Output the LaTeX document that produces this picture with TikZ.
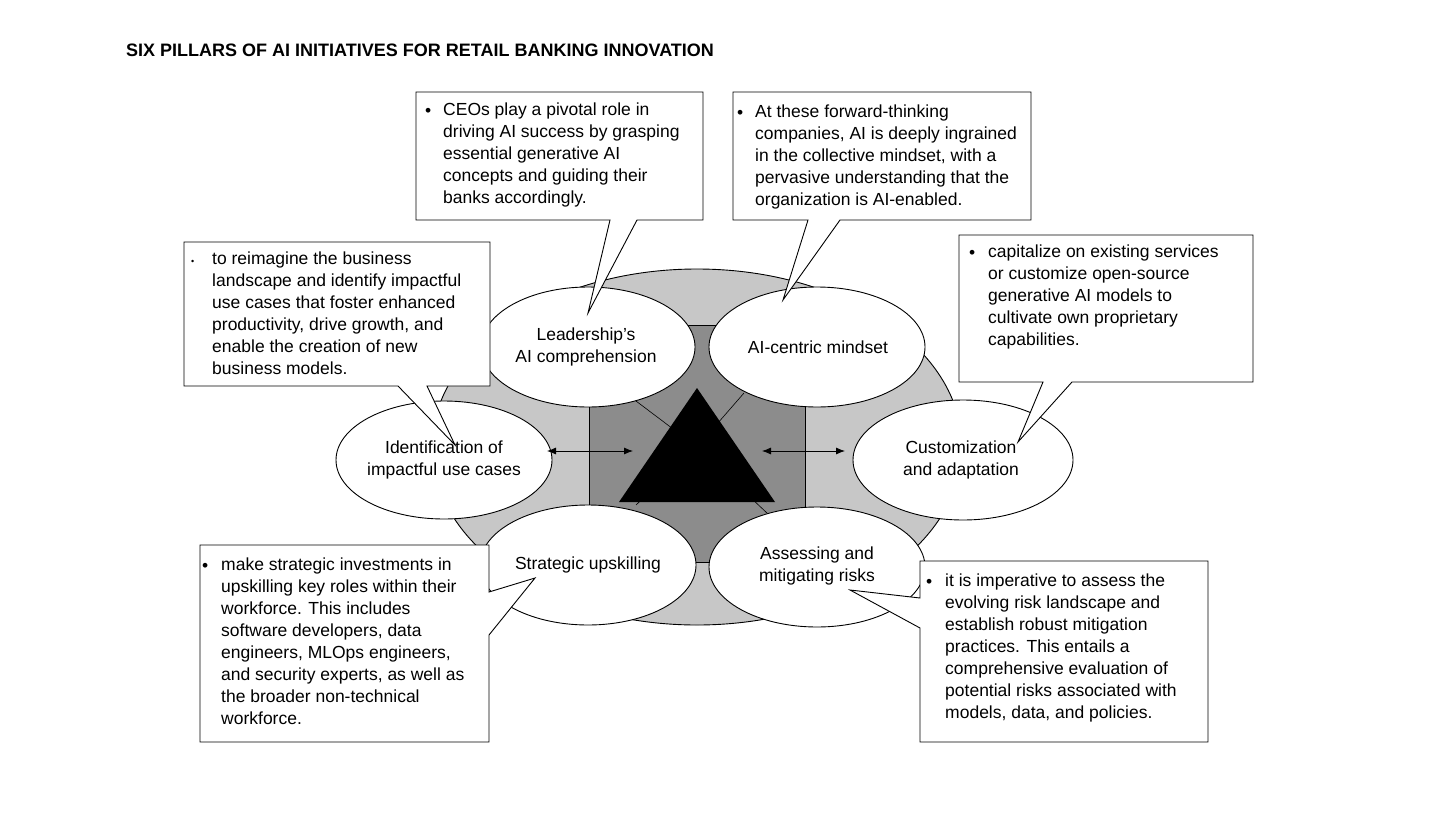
\documentclass[tikz,border=0pt]{standalone}
\usepackage{fontspec}
\setmainfont{Liberation Sans}
\usetikzlibrary{arrows.meta}
\begin{document}
\begin{tikzpicture}[x=1pt,y=-1pt,
  every node/.style={font=\fontsize{17.5}{22}\selectfont},
  pill/.style={draw=black,fill=white,line width=0.9pt},
  callout/.style={draw=black,fill=white,line width=0.9pt,line join=miter},
  txt/.style={anchor=north west,inner sep=0pt,align=left},
  bul/.style={anchor=base west,inner sep=0pt},
  dbl/.style={{Latex[length=9pt,width=7pt]}-{Latex[length=9pt,width=7pt]},line width=0.8pt}]
\useasboundingbox (0,0) rectangle (1456,819);
\fill[white] (0,0) rectangle (1456,819);
\node[anchor=base west,inner sep=0pt,font=\bfseries\fontsize{18}{20}\selectfont] (title) at (126,56) {SIX PILLARS OF AI INITIATIVES FOR RETAIL BANKING INNOVATION};
% background
\draw[fill=black!22,line width=0.9pt] (697,447) ellipse [x radius=265, y radius=178];
\draw[fill=black!45,line width=0.9pt] (589,325) rectangle (805,562);
\draw[line width=0.6pt] (697,447) -- (632,398);
\draw[line width=0.6pt] (697,447) -- (744,393);
\draw[line width=0.6pt] (697,447) -- (636,505);
\draw[line width=0.6pt] (697,447) -- (768,514);
\fill[black] (697,388) -- (775,502) -- (619,502) -- cycle;
% ellipses
\draw[pill] (588,347) ellipse [x radius=107, y radius=60];
\draw[pill] (817,347) ellipse [x radius=108, y radius=60];
\draw[pill] (444,460) ellipse [x radius=108, y radius=59];
\draw[pill] (963,460) ellipse [x radius=110, y radius=60];
\draw[pill] (588,565) ellipse [x radius=108, y radius=60];
\draw[pill] (817,567) ellipse [x radius=108, y radius=60];
\node[align=center] (lead) at (586,347) {Leadership’s\\AI comprehension};
\node (mind) at (818,347) {AI-centric mindset};
\node[align=center] (ident) at (444,460) {Identification of\\impactful use cases};
\node[align=center] (cust) at (961,460) {Customization\\and adaptation};
\node (up) at (588,565) {Strategic upskilling};
\node[align=center] (risk) at (817,566) {Assessing and\\mitigating risks};
\coordinate (la) at (547,451); \coordinate (lb) at (633,451);
\coordinate (ra) at (762,451); \coordinate (rb) at (845,451);
\draw[dbl] (la) -- (lb);
\draw[dbl] (ra) -- (rb);
% callouts
\draw[callout] (416,92) -- (703,92) -- (703,220) -- (637,220) -- (588,313) -- (610,220) -- (416,220) -- cycle;
\draw[callout] (733,92) -- (1031,92) -- (1031,220) -- (840,220) -- (783,300) -- (808,220) -- (733,220) -- cycle;
\draw[callout] (184,242) -- (490,242) -- (490,386) -- (427,386) -- (455,445) -- (398,386) -- (184,386) -- cycle;
\draw[callout] (959,235) -- (1253,235) -- (1253,382) -- (1072,382) -- (1018,442) -- (1043,382) -- (959,382) -- cycle;
\draw[callout] (200,545) -- (489,545) -- (489,592) -- (535,578) -- (489,635) -- (489,742) -- (200,742) -- cycle;
\draw[callout] (920,561) -- (1208,561) -- (1208,742) -- (920,742) -- (920,628) -- (850,590) -- (920,598) -- cycle;
% texts
\node[bul] (b1) at (425,116) {\textbullet};
\node[txt] (t1) at (443,103) {CEOs play a pivotal role in\\driving AI success by grasping\\essential generative AI\\concepts and guiding their\\banks accordingly.};
\node[bul] (b2) at (737,118) {\textbullet};
\node[txt] (t2) at (755,105) {At these forward-thinking\\companies, AI is deeply ingrained\\in the collective mindset, with a\\pervasive understanding that the\\organization is AI-enabled.};
\node[bul,font=\fontsize{9}{22}\selectfont] (b3) at (191,264) {\textbullet};
\node[txt] (t3) at (212,252) {to reimagine the business\\landscape and identify impactful\\use cases that foster enhanced\\productivity, drive growth, and\\enable the creation of new\\business models.};
\node[bul] (b4) at (969,258) {\textbullet};
\node[txt] (t4) at (988,245) {capitalize on existing services\\or customize open-source\\generative AI models to\\cultivate own proprietary\\capabilities.};
\node[bul] (b5) at (202,571) {\textbullet};
\node[txt] (t5) at (221,558) {make strategic investments in\\upskilling key roles within their\\workforce. This includes\\software developers, data\\engineers, MLOps engineers,\\and security experts, as well as\\the broader non-technical\\workforce.};
\node[bul] (b6) at (926,587) {\textbullet};
\node[txt] (t6) at (945,574) {it is imperative to assess the\\evolving risk landscape and\\establish robust mitigation\\practices. This entails a\\comprehensive evaluation of\\potential risks associated with\\models, data, and policies.};
\end{tikzpicture}
\end{document}
